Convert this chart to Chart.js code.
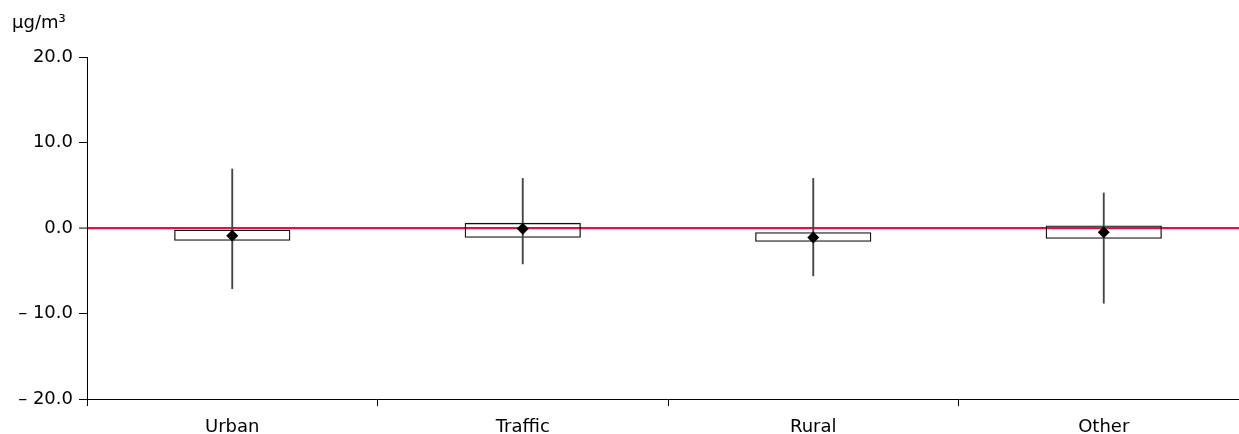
<!DOCTYPE html>
<html>
<head>
<meta charset="utf-8">
<script src="https://cdn.jsdelivr.net/npm/chart.js@4/dist/chart.umd.min.js"></script>
<style>
  html, body { margin: 0; padding: 0; overflow: hidden; background: #fff; }
  #wrap { position: absolute; left: 0; top: 0; width: 1255px; height: 434px; }
</style>
</head>
<body>
<div id="wrap"><canvas id="myChart"></canvas></div>
<script>
const categories = ['Urban', 'Traffic', 'Rural', 'Other'];
const boxLow = [-1.5, -1.15, -1.6, -1.25];
const boxHigh = [-0.2, 0.6, -0.5, 0.3];
const whiskerLow = [-7.1, -4.2, -5.6, -8.8];
const whiskerHigh = [6.9, 5.8, 5.8, 4.1];
const means = [-0.9, -0.1, -1.1, -0.5];
const unitLabel = 'µg/m³';

const font = { family: 'DejaVu Sans', size: 18 };

// unit label in the top left corner
const unitPlugin = {
  id: 'unit',
  afterDraw(chart) {
    const c = chart.ctx;
    c.save();
    c.font = '18px "DejaVu Sans"';
    c.fillStyle = '#000';
    c.textAlign = 'left';
    c.textBaseline = 'alphabetic';
    c.fillText(unitLabel, 12, 28);
    c.restore();
  }
};

const ctx = document.getElementById('myChart').getContext('2d');
const chart = new Chart(ctx, {
  type: 'bar',
  data: {
    labels: categories,
    datasets: [
      {
        type: 'line',
        label: 'Mean',
        data: means,
        showLine: false,
        pointStyle: 'rectRot',
        pointRadius: 6,
        pointBackgroundColor: '#000',
        pointBorderColor: '#000',
        pointBorderWidth: 0,
        order: 0
      },
      {
        label: 'Range',
        data: whiskerLow.map((v, i) => [v, whiskerHigh[i]]),
        backgroundColor: '#444',
        borderWidth: 0,
        barThickness: 1.2,
        grouped: false,
        order: 1
      },
      {
        label: 'Box',
        data: boxLow.map((v, i) => [v, boxHigh[i]]),
        backgroundColor: 'rgba(255,255,255,0)',
        borderColor: '#111',
        borderWidth: 1.3,
        borderSkipped: false,
        barPercentage: 0.4,
        categoryPercentage: 1,
        grouped: false,
        order: 2
      }
    ]
  },
  options: {
    responsive: true,
    maintainAspectRatio: false,
    animation: false,
    layout: { padding: { top: 57, right: 1, left: 0, bottom: 0 } },
    plugins: {
      legend: { display: false },
      tooltip: { enabled: false }
    },
    scales: {
      x: {
        offset: true,
        grid: { offset: true, drawOnChartArea: false, tickColor: '#000', tickLength: 7, tickWidth: 1 },
        border: { color: '#000', width: 1 },
        ticks: { color: '#000', font: font, padding: 11 },
        afterFit: s => { s.height = 35; }
      },
      y: {
        min: -20,
        max: 20,
        grid: {
          color: c => (c.tick && c.tick.value === 0) ? '#d7154b' : 'rgba(0,0,0,0)',
          lineWidth: c => (c.tick && c.tick.value === 0) ? 2.2 : 1,
          tickColor: '#000',
          tickWidth: 1,
          tickLength: 8
        },
        border: { color: '#000', width: 1 },
        ticks: {
          stepSize: 10,
          color: '#000',
          font: font,
          padding: 6,
          callback: v => v < 0 ? '– ' + Math.abs(v).toFixed(1) : v.toFixed(1)
        },
        afterFit: s => { s.width = 87; }
      }
    }
  },
  plugins: [unitPlugin]
});
</script>
</body>
</html>
